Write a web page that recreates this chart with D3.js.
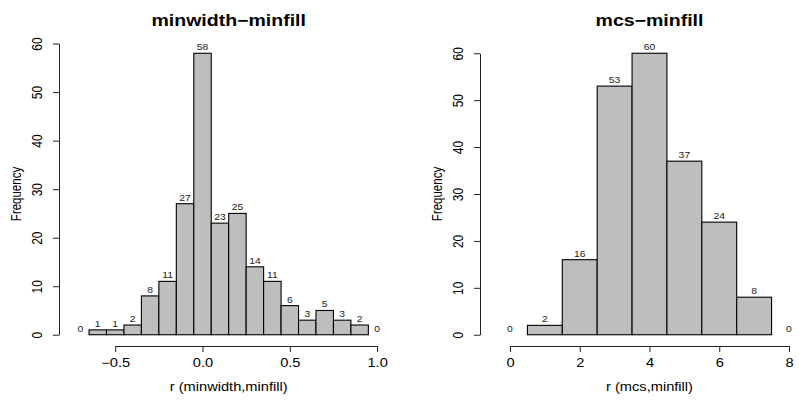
<!DOCTYPE html>
<html>
<head>
<meta charset="utf-8">
<script src="https://cdn.jsdelivr.net/npm/d3@7"></script>
<style>
  body { margin: 0; background: #fff; }
  svg { display: block; font-family: "Liberation Sans", Arial, sans-serif; }
</style>
</head>
<body>
<script>
// histogram data
const leftBreaks = [-0.75, -0.65, -0.55, -0.45, -0.35, -0.25, -0.15, -0.05, 0.05, 0.15,
                    0.25, 0.35, 0.45, 0.55, 0.65, 0.75, 0.85, 0.95, 1.05]
const leftCounts = [0, 1, 1, 2, 8, 11, 27, 58, 23, 25, 14, 11, 6, 3, 5, 3, 2, 0]
const leftXTicks = [-0.5, 0, 0.5, 1.0]
const leftYTicks = [0, 10, 20, 30, 40, 50, 60]

const rightBreaks = [-0.5, 0.5, 1.5, 2.5, 3.5, 4.5, 5.5, 6.5, 7.5, 8.5]
const rightCounts = [0, 2, 16, 53, 60, 37, 24, 8, 0]
const rightXTicks = [0, 2, 4, 6, 8]
const rightYTicks = [0, 10, 20, 30, 40, 50, 60]

const titles = ["minwidth\u2212minfill", "mcs\u2212minfill"]
const xLabels = ["r (minwidth,minfill)", "r (mcs,minfill)"]

// the picture is stretched sideways, so text is too
const SX = 1.22
const W = 799, H = 400
const plotTop = 42, plotBottom = 346

const svg = d3.select('body').append('svg')
    .attr('width', W)
    .attr('height', H)

function drawHist(breaks, counts, xTicks, yTicks, title, xlab, left, right) {
    const g = svg.append('g')

    // R style ranges: 4% padding each side
    const span = breaks[breaks.length - 1] - breaks[0]
    const xScale = d3.scaleLinear()
        .domain([breaks[0] - 0.04 * span, breaks[breaks.length - 1] + 0.04 * span])
        .range([left, right])
    const ymax = d3.max(counts)
    const yScale = d3.scaleLinear()
        .domain([-0.04 * ymax, 1.04 * ymax])
        .range([plotBottom, plotTop])

    const bins = counts.map((c, i) => ({x0: breaks[i], x1: breaks[i + 1], n: c}))

    g.selectAll('rect')
        .data(bins)
        .enter()
        .append('rect')
        .attr('x', d => xScale(d.x0))
        .attr('y', d => yScale(d.n))
        .attr('width', d => xScale(d.x1) - xScale(d.x0))
        .attr('height', d => yScale(0) - yScale(d.n))
        .attr('fill', '#bebebe')
        .attr('stroke', '#000')
        .attr('stroke-width', 1.1)

    // count labels above bars
    g.selectAll('text.count')
        .data(bins)
        .enter()
        .append('text')
        .attr('class', 'count')
        .attr('transform', d => `translate(${xScale((d.x0 + d.x1) / 2)},${yScale(d.n) - 3}) scale(${SX},1)`)
        .attr('text-anchor', 'middle')
        .attr('font-size', '8.5px')
        .attr('fill', '#222')
        .text(d => d.n)

    // x axis, line only from first to last tick
    const decimals = xTicks.some(t => t % 1 !== 0)
    const xAxisScale = d3.scaleLinear()
        .domain([xTicks[0], xTicks[xTicks.length - 1]])
        .range([xScale(xTicks[0]), xScale(xTicks[xTicks.length - 1])])
    const xAxis = g.append('g')
        .attr('transform', `translate(0,${plotBottom})`)
        .call(d3.axisBottom(xAxisScale).tickValues(xTicks).tickSize(6).tickSizeOuter(0)
            .tickFormat(d => d3.format(decimals ? '.1f' : 'd')(d).replace('-', '\u2212')))
    xAxis.select('.domain').attr('stroke', '#222')
    xAxis.selectAll('line').attr('stroke', '#222')
    xAxis.selectAll('text')
        .attr('y', null).attr('dy', null)
        .attr('transform', `translate(0,21) scale(${SX},1)`)
        .attr('font-size', '12px')
        .attr('font-family', '"Liberation Sans", Arial, sans-serif')
        .attr('fill', '#000')

    const yAxisScale = d3.scaleLinear()
        .domain([yTicks[0], yTicks[yTicks.length - 1]])
        .range([yScale(yTicks[0]), yScale(yTicks[yTicks.length - 1])])
    const yAxis = g.append('g')
        .attr('transform', `translate(${left},0)`)
        .call(d3.axisLeft(yAxisScale).tickValues(yTicks).tickSize(6).tickSizeOuter(0))
    yAxis.select('.domain').attr('stroke', '#222')
    yAxis.selectAll('line').attr('stroke', '#222')
    yAxis.selectAll('text')
        .attr('x', null).attr('dy', null)
        .attr('text-anchor', 'middle')
        .attr('transform', `translate(-17.5,0) scale(${SX},1) rotate(-90)`)
        .attr('font-size', '12px')
        .attr('font-family', '"Liberation Sans", Arial, sans-serif')
        .attr('fill', '#000')

    // title and axis labels
    g.append('text')
        .attr('transform', `translate(${(left + right) / 2},26) scale(${SX},1)`)
        .attr('text-anchor', 'middle')
        .attr('font-size', '16px')
        .attr('font-weight', 'bold')
        .text(title)

    g.append('text')
        .attr('transform', `translate(${(left + right) / 2},391) scale(${SX},1)`)
        .attr('text-anchor', 'middle')
        .attr('font-size', '12px')
        .text(xlab)

    g.append('text')
        .attr('transform', `translate(${left - 38.5},${(plotTop + plotBottom) / 2}) scale(${SX},1) rotate(-90)`)
        .attr('text-anchor', 'middle')
        .attr('font-size', '11.5px')
        .text('Frequency')
}

drawHist(leftBreaks, leftCounts, leftXTicks, leftYTicks, titles[0], xLabels[0], 59, 398.4)
drawHist(rightBreaks, rightCounts, rightXTicks, rightYTicks, titles[1], xLabels[1], 480, 819)
</script>
</body>
</html>
